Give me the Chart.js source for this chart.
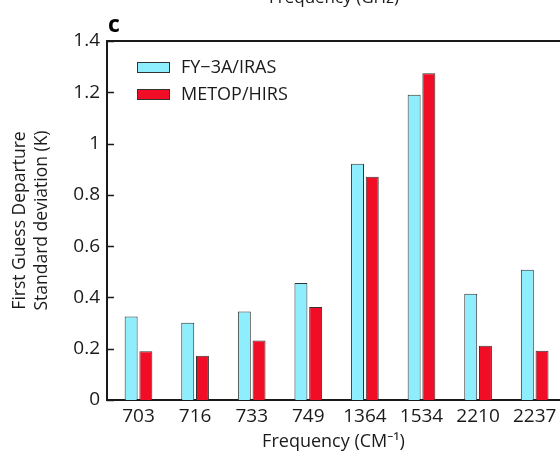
<!DOCTYPE html>
<html>
<head>
<meta charset="utf-8">
<script src="https://cdn.jsdelivr.net/npm/chart.js@4.4.0/dist/chart.umd.min.js"></script>
<style>
  html, body { margin: 0; padding: 0; background: #fff; overflow: hidden; width: 560px; height: 456px; }
  canvas { display: block; }
</style>
</head>
<body>
<canvas id="c" width="600" height="456"></canvas>
<script>
const categories = ['703', '716', '733', '749', '1364', '1534', '2210', '2237'];
const seriesNames = ['FY\u22123A/IRAS', 'METOP/HIRS'];
const fy3aValues = [0.326, 0.301, 0.345, 0.456, 0.921, 1.19, 0.414, 0.508];
const metopValues = [0.190, 0.173, 0.232, 0.363, 0.871, 1.274, 0.212, 0.192];
const yTickValues = [0, 0.2, 0.4, 0.6, 0.8, 1.0, 1.2, 1.4];

const FONT = '"Open Sans", "Noto Sans", "DejaVu Sans", sans-serif';
const INK = '#1a1a1a';
const CYAN = '#8EEEFD';
const RED = '#F20D26';
const EDGE = '#333333';

function toPoints(vals) { return vals.map((v, i) => ({ x: i, y: v })); }

const decor = {
  id: 'decor',
  afterDraw(chart) {
    const ctx = chart.ctx;
    const a = chart.chartArea;
    const ys = chart.scales.y;
    ctx.save();
    // top frame line
    ctx.strokeStyle = INK;
    ctx.lineWidth = 2;
    ctx.beginPath();
    ctx.moveTo(a.left - 1, a.top);
    ctx.lineTo(a.right, a.top);
    ctx.stroke();
    // inward y ticks
    ctx.lineWidth = 1.5;
    ys.ticks.forEach(t => {
      const py = Math.round(ys.getPixelForValue(t.value)) + 0.5;
      ctx.beginPath();
      ctx.moveTo(a.left, py);
      ctx.lineTo(a.left + 7, py);
      ctx.stroke();
    });
    // panel letter
    ctx.fillStyle = '#000';
    ctx.font = 'bold 23px ' + FONT;
    ctx.textAlign = 'left';
    ctx.textBaseline = 'alphabetic';
    ctx.fillText('c', a.left + 1, 32);
    // clipped title from panel above
    ctx.fillStyle = INK;
    ctx.font = '17px ' + FONT;
    ctx.textAlign = 'center';
    ctx.fillText('Frequency (GHz)', 334, 3);
    // legend
    chart.data.datasets.forEach((ds, i) => {
      const bx = 137, by = 62 + i * 27, bw = 33, bh = 11;
      ctx.fillStyle = ds.backgroundColor;
      ctx.fillRect(bx, by, bw, bh);
      ctx.strokeStyle = EDGE;
      ctx.lineWidth = 1;
      ctx.strokeRect(bx + 0.5, by + 0.5, bw - 1, bh - 1);
      ctx.fillStyle = INK;
      ctx.font = '18px ' + FONT;
      ctx.textAlign = 'left';
      ctx.textBaseline = 'middle';
      ctx.fillText(ds.label, 181, by + bh / 2 + 0.5);
    });
    ctx.restore();
  }
};

new Chart(document.getElementById('c'), {
  type: 'bar',
  data: {
    datasets: [
      { label: seriesNames[0], data: toPoints(fy3aValues), backgroundColor: CYAN, borderColor: EDGE, borderWidth: 1 },
      { label: seriesNames[1], data: toPoints(metopValues), backgroundColor: RED, borderColor: EDGE, borderWidth: 1 }
    ]
  },
  options: {
    responsive: false,
    animation: false,
    events: [],
    categoryPercentage: 0.52,
    barPercentage: 0.88,
    layout: { padding: { left: 0, right: 0, top: 41, bottom: 0 } },
    plugins: { legend: { display: false }, tooltip: { enabled: false } },
    scales: {
      x: {
        type: 'linear',
        min: -0.5565,
        max: 8.154,
        offset: false,
        grid: { display: false, drawTicks: false },
        border: { display: true, color: INK, width: 2 },
        afterBuildTicks: s => { s.ticks = categories.map((_, i) => ({ value: i })); },
        afterFit: s => { s.height = 56; },
        ticks: {
          autoSkip: false,
          maxRotation: 0,
          padding: 5,
          color: INK,
          font: { family: FONT, size: 19 },
          callback: v => categories[v]
        },
        title: {
          display: false
        }
      },
      y: {
        min: 0,
        max: 1.4,
        grid: { display: false, drawTicks: false },
        border: { display: true, color: INK, width: 2 },
        afterBuildTicks: s => { s.ticks = yTickValues.map(v => ({ value: v })); },
        afterFit: s => { s.width = 107; },
        ticks: {
          padding: 7,
          color: INK,
          font: { family: FONT, size: 19 },
          callback: v => String(Number(v.toFixed(1)))
        },
        title: {
          display: true,
          text: ['First Guess Departure', 'Standard deviation (K)'],
          color: INK,
          font: { family: FONT, size: 17.5, lineHeight: 1.25 },
          padding: { top: 9, bottom: 0 }
        }
      }
    }
  },
  plugins: [decor, {
    id: 'xTitle',
    afterDraw(chart) {
      // x-axis title centred on the visible part of the plot (canvas wider than window)
      const ctx = chart.ctx;
      const a = chart.chartArea;
      ctx.save();
      ctx.fillStyle = INK;
      ctx.font = '18px ' + FONT;
      ctx.textAlign = 'center';
      ctx.textBaseline = 'middle';
      ctx.fillText('Frequency (CM\u207B\u00B9)', (a.left + 560) / 2, 442);
      ctx.restore();
    }
  }]
});
</script>
</body>
</html>
